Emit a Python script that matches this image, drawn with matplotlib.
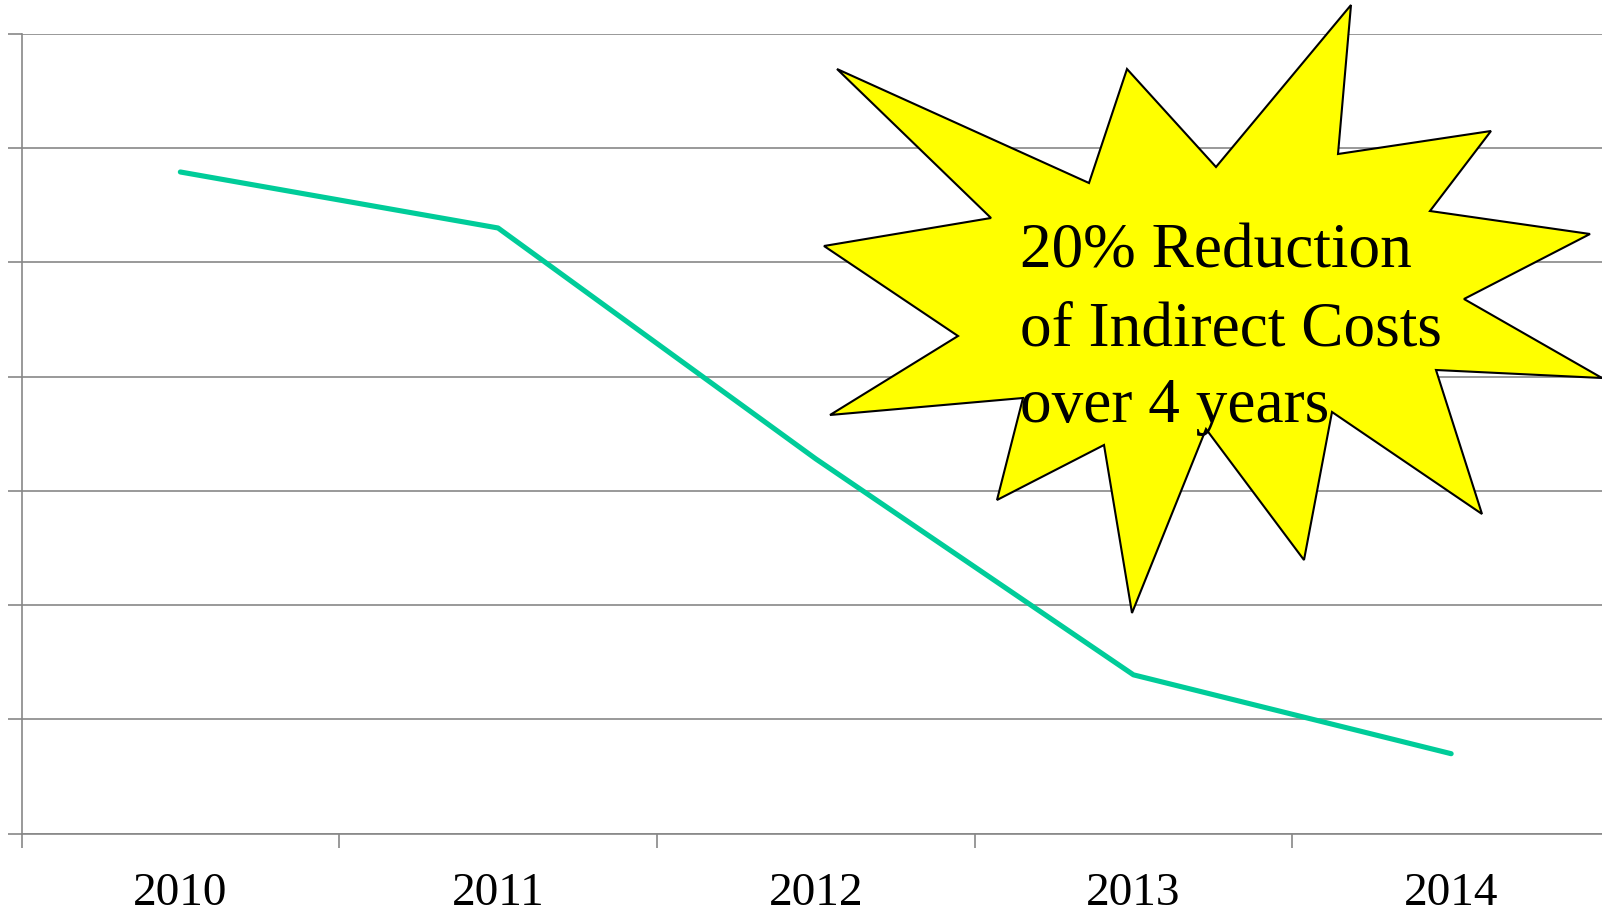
import matplotlib
matplotlib.use("Agg")
import matplotlib.pyplot as plt
from matplotlib.patches import Polygon

# data (one gridline = 10 units)
years = ["2010", "2011", "2012", "2013", "2014"]
costs = [57.9, 53.0, 32.8, 13.9, 7.0]

# callout shape, in figure pixels (x right, y down from top)
burst_px = [(837, 69), (1089, 183), (1127, 69), (1216, 167), (1351, 5),
            (1338, 154), (1491, 131), (1430, 211), (1590, 234), (1464, 299),
            (1602, 378), (1436, 370), (1482, 514), (1332, 412), (1304, 560),
            (1206, 429), (1132, 613), (1104, 445), (997, 500), (1023, 398),
            (830, 415), (958, 336), (824, 246), (991, 218)]
callout_lines = ["20% Reduction", "of Indirect Costs", "over 4 years"]

W, H = 1602, 911
grid_col = "#878787"

fig = plt.figure(figsize=(W / 100, H / 100), dpi=100)
ax = fig.add_axes([21.5 / W, (H - 833.7) / H, 1588.5 / W, 800.0 / H])

x = list(range(len(years)))
ax.plot(x, costs, color="#00CC99", lw=3.7, solid_capstyle="round",
        solid_joinstyle="round", zorder=3)

ax.set_xlim(-0.5, len(years) - 0.5)
ax.set_ylim(0, 70)
ax.set_yticks(range(0, 71, 10))
ax.set_yticklabels([])
ax.yaxis.grid(True, color=grid_col, lw=1.2)
ax.set_axisbelow(True)

# year labels at the centres, tick marks at the category edges
ax.set_xticks(x)
ax.set_xticklabels(years, fontsize=34, fontfamily="Liberation Serif")
ax.set_xticks([i - 0.5 for i in range(len(years) + 1)], minor=True)
ax.tick_params(axis="x", which="major", length=0, pad=28)
ax.tick_params(axis="x", which="minor", length=10, width=1.2, color=grid_col,
               direction="out")
ax.tick_params(axis="y", length=10, width=1.2, color=grid_col, direction="out")

for s in ["top", "right"]:
    ax.spines[s].set_visible(False)
for s in ["left", "bottom"]:
    ax.spines[s].set_color(grid_col)
    ax.spines[s].set_linewidth(1.2)

pts = [(px / W, 1 - py / H) for px, py in burst_px]
fig.patches.append(Polygon(pts, closed=True, transform=fig.transFigure,
                           facecolor="#FFFF00", edgecolor="black", lw=1.5,
                           zorder=5))

baselines = [268, 345, 422]
for txt, by in zip(callout_lines, baselines):
    fig.text(1020 / W, 1 - by / H, txt, fontsize=45.5,
             fontfamily="Liberation Serif", va="baseline", ha="left",
             zorder=6)

fig.savefig("out.png", dpi=100)
